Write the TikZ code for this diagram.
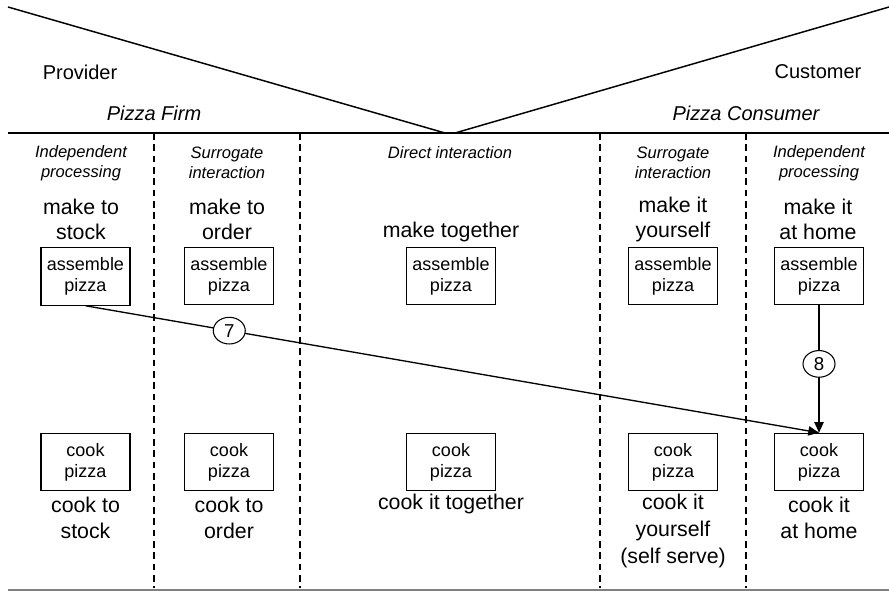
\documentclass[tikz,border=0pt]{standalone}
\usepackage{fontspec}
\setmainfont{Liberation Sans}
\usetikzlibrary{arrows.meta,shapes.geometric}
\begin{document}
\begin{tikzpicture}[x=0.75pt,y=-0.75pt,
 big/.style={font=\fontsize{16}{18.75}\selectfont, align=center, inner sep=0pt},
 bigb/.style={font=\fontsize{16}{20}\selectfont, align=center, inner sep=0pt},
 hdr/.style={font=\fontsize{12.4}{15}\selectfont\itshape, align=center, inner sep=0pt},
 side/.style={font=\fontsize{15}{18}\selectfont, inner sep=0pt},
 box/.style={draw, line width=0.9pt, minimum width=66.75pt, minimum height=43pt, align=center, font=\fontsize{13.5}{15.75}\selectfont, inner sep=0pt},
 num/.style={draw, ellipse, line width=0.8pt, fill=white, minimum width=24pt, minimum height=20pt, inner sep=0pt, font=\fontsize{14}{16}\selectfont},
 sep/.style={line width=1pt, dash pattern=on 5pt off 3.5pt},
 edge/.style={line width=1.1pt},
 flow/.style={line width=1pt, -{Triangle[length=8pt,width=7pt]}}
]
\useasboundingbox (0,0) rectangle (889,591);
% top frame
\coordinate (tl) at (8,7);
\coordinate (ml) at (445,133);
\coordinate (mr) at (455,133);
\coordinate (tr) at (889,7);
\coordinate (hl) at (8,133);
\coordinate (hr) at (889,133);
\coordinate (bl) at (8,590);
\coordinate (br) at (889,590);
\draw[edge] (tl) -- (ml);
\draw[edge] (mr) -- (tr);
\draw[edge] (hl) -- (hr);
\draw[line width=0.8pt, gray] (bl) -- (br);
% separators
\foreach \x/\n in {154/s1,300/s2,600/s3,746/s4}{
  \coordinate (\n t) at (\x,133);
  \coordinate (\n b) at (\x,588);
  \draw[sep] (\n t) -- (\n b);
}
% side labels
\node[side] (prov) at (80,72) {Provider};
\node[side, font=\fontsize{15}{18}\selectfont\itshape] (firm) at (154,113) {Pizza Firm};
\node[side] (cust) at (818,72) {Customer};
\node[side, font=\fontsize{15}{18}\selectfont\itshape] (cons) at (746,113) {Pizza Consumer};
% headers
\node[hdr] (h1) at (81,163) {Independent\\processing};
\node[hdr] (h2) at (227,163) {Surrogate\\interaction};
\node[hdr] (h3) at (450,153) {Direct interaction};
\node[hdr] (h4) at (673,163) {Surrogate\\interaction};
\node[hdr] (h5) at (819,163) {Independent\\processing};
% make labels
\node[big] (m1) at (81,219.5) {make to\\stock};
\node[big] (m2) at (227,219.5) {make to\\order};
\node[big] (m3) at (451,232) {make together};
\node[big] (m4) at (673,219.5) {make it\\yourself};
\node[big] (m5) at (818,219.5) {make it\\at home};
% assemble boxes
\node[box] (a1) at (85.5,276.5) {assemble\\pizza};
\node[box] (a2) at (229,276) {assemble\\pizza};
\node[box] (a3) at (451,276) {assemble\\pizza};
\node[box] (a4) at (673,276) {assemble\\pizza};
\node[box] (a5) at (819,276) {assemble\\pizza};
% cook boxes
\node[box] (c1) at (85.5,462) {cook\\pizza};
\node[box] (c2) at (229,462) {cook\\pizza};
\node[box] (c3) at (451,462) {cook\\pizza};
\node[box] (c4) at (673,462) {cook\\pizza};
\node[box] (c5) at (819,462) {cook\\pizza};
% cook labels
\node[bigb] (k1) at (85.5,518) {cook to\\stock};
\node[bigb] (k2) at (229,518) {cook to\\order};
\node[bigb] (k3) at (451,504) {cook it together};
\node[bigb] (k4) at (673,531) {cook it\\yourself\\(self serve)};
\node[bigb] (k5) at (819,518) {cook it\\at home};
% flows
\draw[flow] (a1.south) -- node[num, pos=0.196] (n7) {7} (c5.north);
\draw[flow] (a5.south) -- node[num, pos=0.46] (n8) {8} (c5.north);
\end{tikzpicture}
\end{document}
